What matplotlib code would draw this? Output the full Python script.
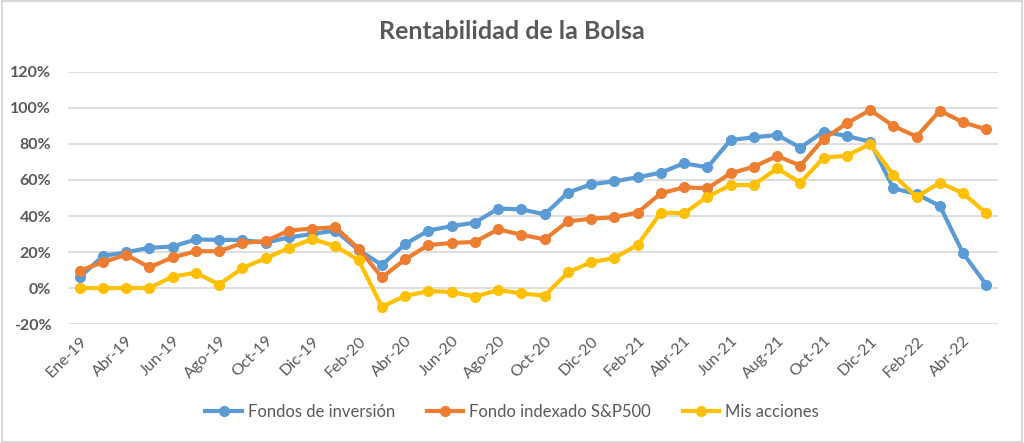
import matplotlib.pyplot as plt
from matplotlib.patches import Rectangle
from matplotlib.ticker import FuncFormatter

months = [
    "Ene-19", "Mar-19", "Abr-19", "May-19", "Jun-19", "Jul-19", "Ago-19", "Sep-19",
    "Oct-19", "Nov-19", "Dic-19", "Ene-20", "Feb-20", "Mar-20", "Abr-20", "May-20",
    "Jun-20", "Jul-20", "Ago-20", "Sep-20", "Oct-20", "Nov-20", "Dic-20", "Ene-21",
    "Feb-21", "Mar-21", "Abr-21", "May-21", "Jun-21", "Jul-21", "Aug-21", "Sep-21",
    "Oct-21", "Nov-21", "Dic-21", "Ene-22", "Feb-22", "Mar-22", "Abr-22", "May-22",
]

fondos = [
    5.9, 17.8, 19.8, 22.4, 23.0, 27.0, 26.7, 26.7, 25.2, 28.1,
    30.0, 31.9, 21.1, 12.8, 24.4, 31.9, 34.4, 36.3, 44.1, 43.7,
    40.9, 53.0, 57.6, 59.3, 61.5, 64.1, 69.3, 67.0, 82.2, 83.7,
    85.0, 78.0, 86.9, 84.4, 81.3, 55.4, 52.2, 45.6, 19.3, 1.7,
]
sp500 = [
    9.6, 14.3, 18.5, 11.5, 17.0, 20.4, 20.4, 25.0, 26.1, 31.9,
    33.0, 33.7, 21.9, 5.9, 15.9, 23.9, 25.0, 25.6, 32.6, 29.6,
    27.0, 37.0, 38.5, 39.3, 41.9, 52.6, 55.9, 55.4, 63.7, 67.4,
    73.3, 68.0, 82.8, 91.5, 98.9, 90.0, 84.1, 98.5, 92.0, 88.1,
]
acciones = [
    0.0, 0.0, 0.0, 0.0, 6.3, 8.5, 1.9, 11.1, 16.5, 22.2,
    27.2, 23.3, 15.5, -10.4, -4.4, -1.7, -2.2, -4.8, -1.1, -3.0,
    -4.3, 8.7, 14.3, 16.7, 23.9, 41.9, 41.5, 50.7, 57.2, 57.2,
    66.5, 58.5, 72.4, 73.5, 80.0, 62.8, 50.7, 58.5, 52.6, 41.5,
]

series = [
    ("Fondos de inversión", fondos, "#5B9BD5"),
    ("Fondo indexado S&P500", sp500, "#ED7D31"),
    ("Mis acciones", acciones, "#FFC000"),
]

plt.rcParams["font.family"] = ["Lato", "DejaVu Sans"]
text_color = "#595959"

fig = plt.figure(figsize=(10.24, 4.43), dpi=100)
fig.patches.append(Rectangle((0.002, 0.002), 0.996, 0.996, transform=fig.transFigure,
                             fill=False, edgecolor="#d9d9d9", linewidth=1.5))
ax = fig.add_axes([0.0664, 0.2686, 0.9082, 0.5689])

x = list(range(len(months)))
for name, vals, color in series:
    ax.plot(x, vals, color=color, linewidth=3.0, marker="o", markersize=7, label=name)

ax.set_xlim(-0.5, len(months) - 0.5)
ax.set_ylim(-20, 120)
ax.set_yticks(range(-20, 121, 20))
ax.yaxis.set_major_formatter(FuncFormatter(lambda v, _: f"{v:.0f}%"))
ax.set_xticks(x[::2])
ax.set_xticklabels(months[::2], rotation=45, ha="right", rotation_mode="anchor",
                   fontsize=11.5, color=text_color)
for lab in ax.get_yticklabels():
    lab.set_fontsize(11.5)
    lab.set_fontweight("bold")
    lab.set_color(text_color)
ax.tick_params(axis="both", length=0)
ax.tick_params(axis="x", pad=7)
ax.tick_params(axis="y", pad=12)
ax.grid(axis="y", color="#d9d9d9", linewidth=1.2)
ax.set_axisbelow(True)
for s in ax.spines.values():
    s.set_visible(False)

fig.suptitle("Rentabilidad de la Bolsa", x=0.5, y=0.955, fontsize=18, fontweight="bold",
             color=text_color)
fig.legend(loc="center", bbox_to_anchor=(0.5, 0.07), ncol=3, frameon=False,
           fontsize=12, labelcolor=text_color, handlelength=2.2, columnspacing=1.9,
           handletextpad=0.35)

fig.savefig("out.png", dpi=100)
